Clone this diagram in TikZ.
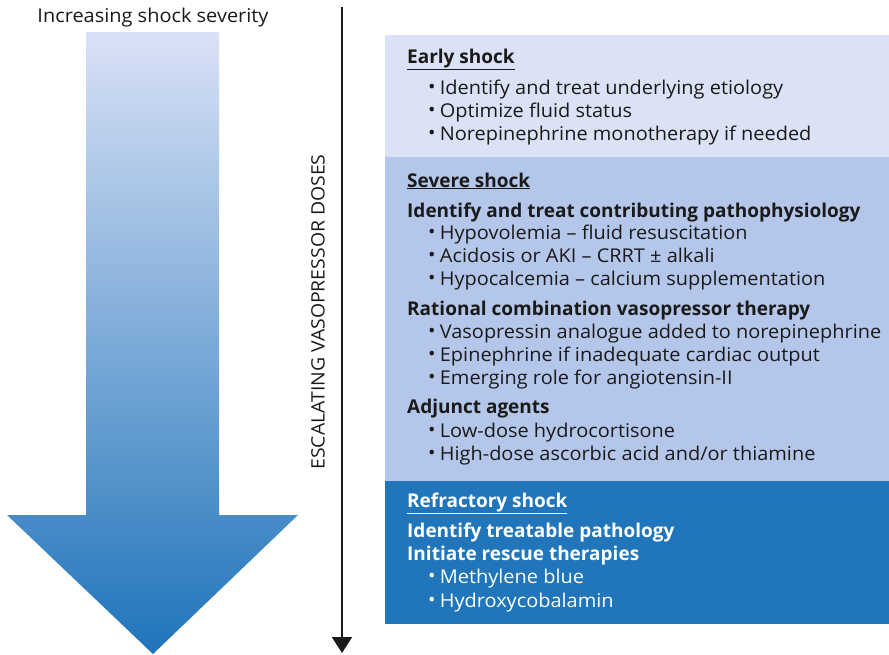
\documentclass[tikz,border=0pt]{standalone}
\usepackage{fontspec}
\usepackage{graphicx}
\setmainfont{Open Sans}[UprightFeatures={FakeStretch=1.05}]
\usetikzlibrary{arrows.meta}

\definecolor{earlyfill}{HTML}{DCE2F6}
\definecolor{severefill}{HTML}{B4C7EA}
\definecolor{refractfill}{HTML}{2176BB}
\definecolor{arrowtop}{HTML}{D9E1F6}
\definecolor{arrowbot}{HTML}{1F74BA}
\definecolor{ink}{HTML}{1A1A1A}

\newcommand\bul{\raisebox{0.05em}{•}\hspace{0.22em}}
\newcommand\uline[1]{\underline{#1}}

\begin{document}
\begin{tikzpicture}[x=1pt,y=-1pt,
  txt/.style={anchor=base west, inner sep=0pt, text=ink, font=\fontsize{19}{23}\selectfont},
  head/.style={txt, font=\fontsize{19}{23}\selectfont\bfseries},
  stage/.style={draw=none, rectangle, inner sep=0pt, anchor=north west, minimum width=504pt},
  lbl/.style={inner sep=0pt, text=ink, font=\fontsize{19}{23}\selectfont}]
\useasboundingbox (0,0) rectangle (889,654);

% severity arrow with vertical gradient
\shade[top color=arrowtop, bottom color=arrowbot]
  (86,32) -- (219,32) -- (219,515) -- (298,515) -- (153,654) -- (7,515) -- (86,515) -- cycle;
\node[lbl, anchor=base] (sev) at (153,22) {Increasing shock severity};

% dose axis
\coordinate (dtop) at (342,7);
\coordinate (dbot) at (342,653);
\draw[line width=2pt, ink, -{Triangle[width=20pt,length=16pt]}] (dtop) -- (dbot);
\node[lbl, rotate=90, font=\fontsize{18.5}{22}\selectfont] (dose) at (318,312) {ESCALATING VASOPRESSOR DOSES};

% stage panels
\node[stage, fill=earlyfill, minimum height=122pt] (early) at (385,35) {};
\node[stage, fill=severefill, minimum height=324pt] (severe) at (385,157) {};
\node[stage, fill=refractfill, minimum height=143pt] (refract) at (385,481) {};

% early shock
\node[head] (e0) at (407,63) {\uline{Early shock}};
\node[txt] (e1) at (428,94) {\bul Identify and treat underlying etiology};
\node[txt] (e2) at (428,117) {\bul Optimize fluid status};
\node[txt] (e3) at (428,140) {\bul Norepinephrine monotherapy if needed};

% severe shock
\node[head] (s0) at (407,187) {\uline{Severe shock}};
\node[head] (s1) at (407,217) {Identify and treat contributing pathophysiology};
\node[txt] (s2) at (428,239) {\bul Hypovolemia – fluid resuscitation};
\node[txt] (s3) at (428,262) {\bul Acidosis or AKI – CRRT ± alkali};
\node[txt] (s4) at (428,285) {\bul Hypocalcemia – calcium supplementation};
\node[head] (s5) at (407,315) {Rational combination vasopressor therapy};
\node[txt] (s6) at (428,338) {\bul Vasopressin analogue added to norepinephrine};
\node[txt] (s7) at (428,361) {\bul Epinephrine if inadequate cardiac output};
\node[txt] (s8) at (428,384) {\bul Emerging role for angiotensin-II};
\node[head] (s9) at (407,413) {Adjunct agents};
\node[txt] (s10) at (428,437) {\bul Low-dose hydrocortisone};
\node[txt] (s11) at (428,460) {\bul High-dose ascorbic acid and/or thiamine};

% refractory shock
\node[head, text=white] (r0) at (407,507) {\uline{Refractory shock}};
\node[head, text=white] (r1) at (407,537) {Identify treatable pathology};
\node[head, text=white] (r2) at (407,560) {Initiate rescue therapies};
\node[txt, text=white] (r3) at (428,583) {\bul Methylene blue};
\node[txt, text=white] (r4) at (428,607) {\bul Hydroxycobalamin};
\end{tikzpicture}
\end{document}
